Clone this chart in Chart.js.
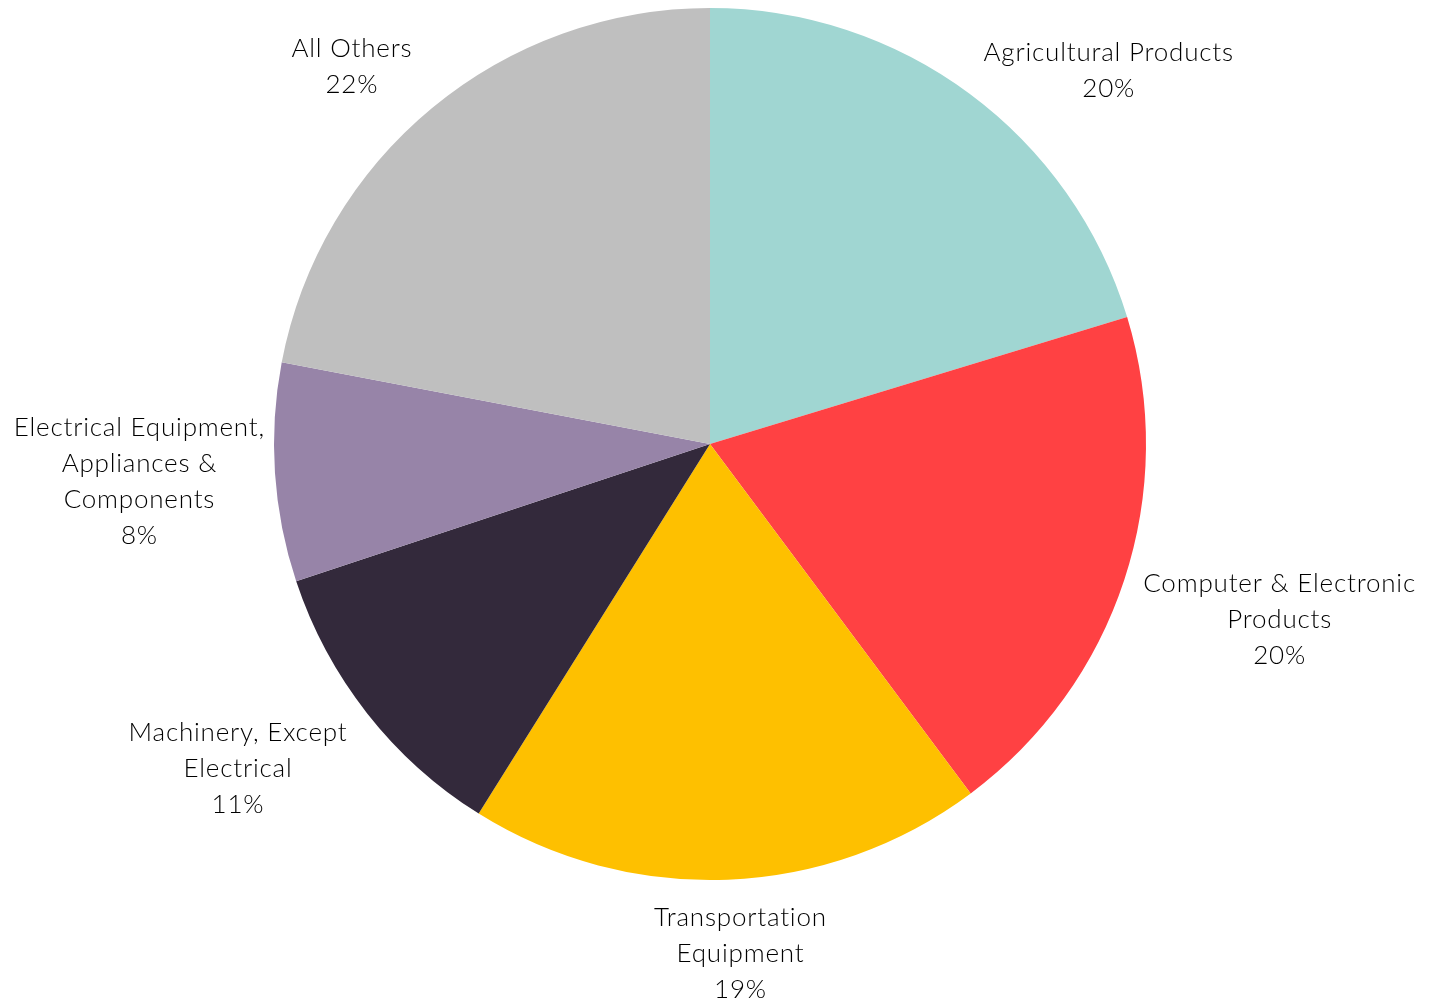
<!DOCTYPE html>
<html>
<head>
<meta charset="utf-8">
<script src="https://cdn.jsdelivr.net/npm/chart.js@4"></script>
<style>
  html, body { margin: 0; padding: 0; background: #ffffff; }
  #wrap { width: 1440px; height: 1004px; position: relative; }
</style>
</head>
<body>
<div id="wrap"><canvas id="c" width="1440" height="1004"></canvas></div>
<script>
// ---- data ----
const categories = [
  ["Agricultural Products"],
  ["Computer & Electronic", "Products"],
  ["Transportation", "Equipment"],
  ["Machinery, Except", "Electrical"],
  ["Electrical Equipment,", "Appliances &", "Components"],
  ["All Others"]
];
const shares = [20.3, 19.5, 19.1, 11.0, 8.1, 22.0];
const sliceColors = ["#a0d6d2", "#ff4143", "#fec000", "#33293b", "#9784a8", "#bfbfbf"];

// ---- label plugin: text outside each slice, along its mid angle ----
const outsideLabels = {
  id: 'outsideLabels',
  afterDatasetsDraw(chart, args, opts) {
    const ctx = chart.ctx;
    const meta = chart.getDatasetMeta(0);
    const data = chart.data.datasets[0].data;
    const total = data.reduce((a, b) => a + b, 0);
    ctx.save();
    ctx.font = opts.font;
    if ('letterSpacing' in ctx) ctx.letterSpacing = opts.letterSpacing;
    ctx.fillStyle = opts.color;
    ctx.textAlign = 'center';
    ctx.textBaseline = 'middle';
    meta.data.forEach((arc, i) => {
      const p = arc.getProps(['x', 'y', 'startAngle', 'endAngle', 'outerRadius'], true);
      const mid = (p.startAngle + p.endAngle) / 2;
      const dx = Math.cos(mid), dy = Math.sin(mid);
      const lines = chart.data.labels[i].concat([Math.round(data[i] / total * 100) + '%']);
      let w = 0;
      lines.forEach(l => { w = Math.max(w, ctx.measureText(l).width); });
      const h = lines.length * opts.lineHeight;
      const sx = Math.max(-1, Math.min(1, dx * 2.5));
      const ax = p.x + (p.outerRadius + opts.gap) * dx;
      const ay = p.y + (p.outerRadius + opts.gap) * dy;
      const nudge = opts.nudge[i] || [0, 0];
      const cx = ax + sx * w / 2 + nudge[0];
      const cy = ay + dy * h / 2 + nudge[1];
      lines.forEach((l, k) => {
        ctx.fillText(l, cx, cy + (k - (lines.length - 1) / 2) * opts.lineHeight);
      });
    });
    ctx.restore();
  }
};

new Chart(document.getElementById('c'), {
  type: 'pie',
  data: {
    labels: categories,
    datasets: [{
      data: shares,
      backgroundColor: sliceColors,
      borderWidth: 0
    }]
  },
  options: {
    responsive: false,
    animation: false,
    layout: { padding: { top: 8, bottom: 124, left: 0, right: 20 } },
    plugins: {
      legend: { display: false },
      tooltip: { enabled: false },
      outsideLabels: {
        font: '300 26px Lato', letterSpacing: '0.8px', color: '#000000', lineHeight: 36, gap: 20,
        nudge: [[2, 22], [0, 16], [3, 0], [-4, 10], [10, 3], [-7, 2]]
      }
    }
  },
  plugins: [outsideLabels]
});
</script>
</body>
</html>
